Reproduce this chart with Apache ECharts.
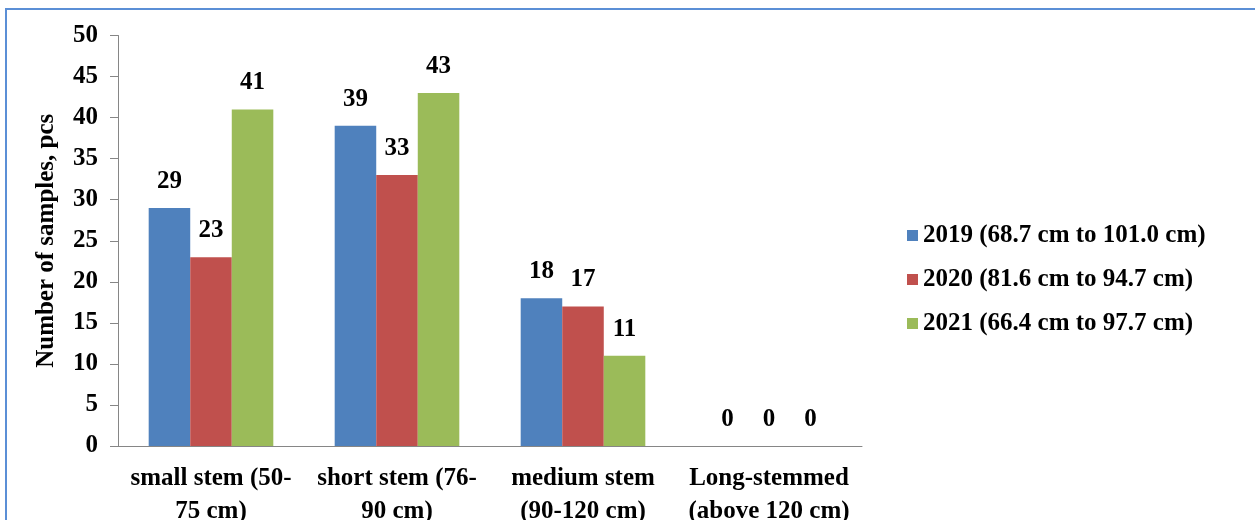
<!DOCTYPE html>
<html>
<head>
<meta charset="utf-8">
<script src="https://cdn.jsdelivr.net/npm/echarts@6/dist/echarts.min.js"></script>
<style>
html,body{margin:0;padding:0;background:#fff;}
#chart{width:1255px;height:520px;}
</style>
</head>
<body>
<div id="chart"></div>
<script>
const categories = ['small stem (50-\n75 cm)', 'short stem (76-\n90 cm)', 'medium stem\n(90-120 cm)', 'Long-stemmed\n(above 120 cm)'];
const seriesNames = ['2019 (68.7 cm to 101.0 cm)', '2020 (81.6 cm to 94.7 cm)', '2021 (66.4 cm to 97.7 cm)'];
const values2019 = [29, 39, 18, 0];
const values2020 = [23, 33, 17, 0];
const values2021 = [41, 43, 11, 0];
const colors = ['#4F81BD', '#C0504D', '#9BBB59'];

const font = "'Liberation Serif', 'Times New Roman', serif";
const fs = 25;
const chart = echarts.init(document.getElementById('chart'));
const allValues = [values2019, values2020, values2021];
chart.setOption({
  animation: false,
  backgroundColor: '#fff',
  textStyle: {fontFamily: font},
  graphic: [
    {type: 'line', shape: {x1: 5, y1: 9, x2: 1255, y2: 9}, style: {stroke: '#5B8FD6', lineWidth: 2}},
    {type: 'line', shape: {x1: 6, y1: 8, x2: 6, y2: 520}, style: {stroke: '#5B8FD6', lineWidth: 2}}
  ],
  grid: {left: 118, right: 393, top: 35.5, bottom: 74, containLabel: false, outerBoundsMode: 'none'},
  legend: {
    orient: 'vertical', left: 902, top: 218,
    itemWidth: 11, itemHeight: 11, itemGap: 19,
    icon: 'rect',
    textStyle: {fontFamily: font, fontWeight: 'bold', fontSize: fs, color: '#000'},
    data: seriesNames
  },
  xAxis: {
    type: 'category', data: categories,
    axisLine: {lineStyle: {color: '#868686', width: 1}},
    axisTick: {show: false},
    axisLabel: {fontFamily: font, fontWeight: 'bold', fontSize: fs, color: '#000', lineHeight: 33, margin: 16, interval: 0}
  },
  yAxis: {
    type: 'value', min: 0, max: 50, interval: 5,
    name: 'Number of samples, pcs', nameLocation: 'middle', nameGap: 59,
    nameTextStyle: {fontFamily: font, fontWeight: 'bold', fontSize: fs, color: '#000'},
    axisLine: {show: true, lineStyle: {color: '#868686'}},
    axisTick: {show: true, length: 8, lineStyle: {color: '#868686'}},
    splitLine: {show: false},
    axisLabel: {fontFamily: font, fontWeight: 'bold', fontSize: fs, color: '#000', margin: 20}
  },
  series: seriesNames.map((n, i) => ({
    name: n, type: 'bar', data: allValues[i],
    barGap: '0%', barCategoryGap: '33%',
    itemStyle: {color: colors[i]},
    label: {show: true, position: 'top', distance: 14, fontFamily: font, fontWeight: 'bold', fontSize: fs, color: '#000'}
  }))
});
</script>
</body>
</html>
